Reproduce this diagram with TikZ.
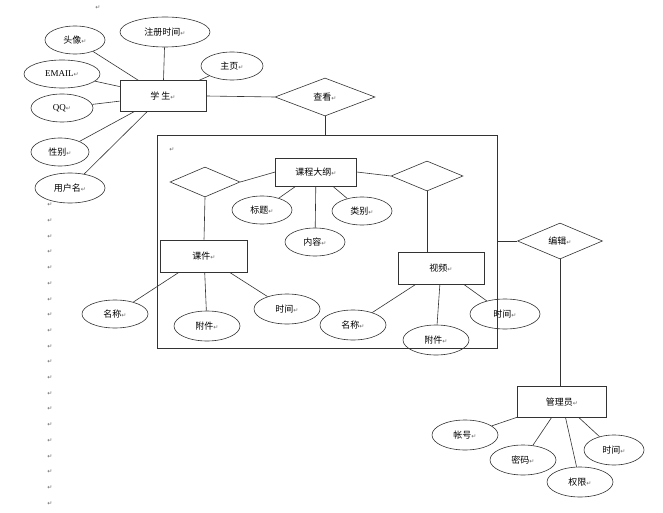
\documentclass[tikz,border=0pt]{standalone}
\usepackage{fontspec}
\setmainfont{Liberation Serif}
\newfontfamily\cjk{Noto Sans CJK SC}
\newfontfamily\dv{DejaVu Sans}
\newcommand{\rt}{{\dv\fontsize{6}{6}\selectfont\textcolor{black!60}{↵}}}
\usetikzlibrary{shapes.geometric}
\tikzset{
 base/.style={draw=black!80,line width=0.6pt,font=\cjk\fontsize{9}{10}\selectfont,inner sep=0pt},
 ent/.style={base,rectangle,minimum width=86pt,minimum height=31pt},
 att/.style={base,ellipse,minimum width=64pt,minimum height=29pt},
 rel/.style={base,diamond,aspect=2.6,minimum width=70pt,minimum height=30pt},
 ln/.style={draw=black!80,line width=0.6pt},
 mk/.style={inner sep=0pt}
}
\begin{document}
\begin{tikzpicture}[x=1pt,y=-1pt]
\useasboundingbox (0,0) rectangle (663,513);
\fill[white] (0,0) rectangle (663,513);
% student
\node[ent] (stu) at (163,96) {学\ 生\rt};
\node[att,minimum width=90pt,minimum height=30pt] (zc) at (165,32) {注册时间\rt};
\node[att,minimum width=60pt,minimum height=28pt] (tx) at (75,40) {头像\rt};
\node[att,minimum width=76pt,minimum height=28pt,font=\fontsize{9}{10}\selectfont] (em) at (62,74) {EMAIL\rt};
\node[att,minimum width=62pt,minimum height=28pt] (zy) at (232,66) {主页\rt};
\node[att,minimum width=62pt,minimum height=28pt,font=\fontsize{9}{10}\selectfont] (qq) at (62,108) {QQ\rt};
\node[att,minimum width=58pt,minimum height=28pt] (xb) at (60,152) {性别\rt};
\node[att,minimum width=70pt,minimum height=30pt] (yh) at (70,188) {用户名\rt};
\foreach \a in {zc,tx,em,zy,qq,xb,yh} \draw[ln] (\a) -- (stu);
\node[rel,minimum width=100pt,minimum height=38pt] (ck) at (325,97) {查看\rt};
\draw[ln] (stu.east) -- (ck.west);
% big box
\node[draw=black!80,line width=0.6pt,minimum width=340pt,minimum height=213pt,inner sep=0pt] (box) at (327,241.5) {};
\draw[ln] (ck.south) -- (box.north -| ck.south);
\node[mk] (m1) at (98,8) {\rt};
\node[mk] (m2) at (172,150) {\rt};
\node[ent,minimum width=81pt,minimum height=28pt] (kc) at (316,172) {课程大纲\rt};
\node[rel,minimum width=70pt,minimum height=30pt] (d1) at (205,182) {};
\node[rel,minimum width=72pt,minimum height=30pt] (d2) at (427,176) {};
\node[att,minimum width=60pt,minimum height=28pt] (bt) at (262,210) {标题\rt};
\node[att,minimum width=60pt,minimum height=28pt] (lb) at (362,211) {类别\rt};
\node[att,minimum width=60pt,minimum height=28pt] (nr) at (315,242) {内容\rt};
\foreach \a in {bt,lb,nr} \draw[ln] (\a) -- (kc);
\draw[ln] (d1.east) -- (kc.west);
\draw[ln] (d2.west) -- (kc.east);
\node[ent,minimum width=87pt,minimum height=32pt] (kj) at (204,256) {课件\rt};
\node[ent,minimum width=86pt,minimum height=32pt] (sp) at (441,268) {视频\rt};
\draw[ln] (d1.south) -- (kj.north);
\draw[ln] (d2.south) -- (sp.north -| d2.south);
\node[att,minimum width=66pt,minimum height=28pt] (mc1) at (115,314) {名称\rt};
\node[att,minimum width=66pt,minimum height=30pt] (fj1) at (207,326) {附件\rt};
\node[att,minimum width=66pt,minimum height=30pt] (sj1) at (287,309) {时间\rt};
\foreach \a in {mc1,fj1,sj1} \draw[ln] (\a) -- (kj);
\node[att,minimum width=66pt,minimum height=30pt] (mc2) at (353,325) {名称\rt};
\node[att,minimum width=66pt,minimum height=30pt] (fj2) at (436,340) {附件\rt};
\node[att,minimum width=70pt,minimum height=30pt] (sj2) at (505,314) {时间\rt};
\foreach \a in {mc2,fj2,sj2} \draw[ln] (\a) -- (sp);
% admin
\node[rel,minimum width=85pt,minimum height=36pt] (bj) at (560,241) {编辑\rt};
\draw[ln] (box.east |- bj.west) -- (bj.west);
\node[ent,minimum width=89pt,minimum height=31pt] (gl) at (562,402) {管理员\rt};
\draw[ln] (bj.south) -- (gl.north -| bj.south);
\node[att,minimum width=66pt,minimum height=30pt] (zh) at (465,435) {帐号\rt};
\node[att,minimum width=66pt,minimum height=30pt] (mm) at (523,460) {密码\rt};
\node[att,minimum width=60pt,minimum height=30pt] (sj3) at (614,450) {时间\rt};
\node[att,minimum width=66pt,minimum height=30pt] (qx) at (580,482) {权限\rt};
\foreach \a in {zh,mm,sj3,qx} \draw[ln] (\a) -- (gl);
% paragraph marks column
\foreach \i in {0,...,19} \node[mk] (c\i) at (50,205+\i*15.7) {\rt};
\end{tikzpicture}
\end{document}
